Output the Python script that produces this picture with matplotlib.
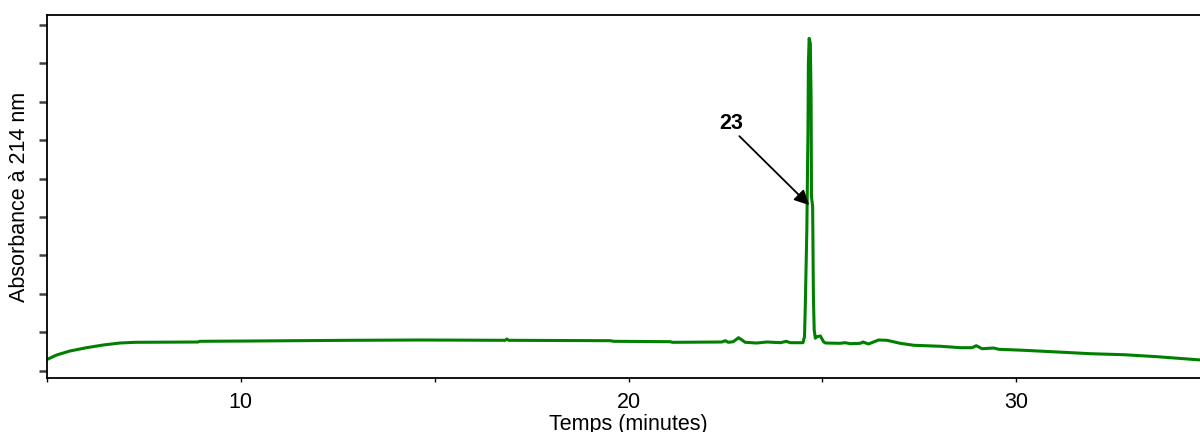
import matplotlib
matplotlib.use("Agg")
import matplotlib.pyplot as plt
from matplotlib.ticker import MultipleLocator, NullFormatter

plt.rcParams['font.family'] = ['Liberation Sans', 'DejaVu Sans']

# ---- data ----
time_min = [5.01, 5.25, 5.59, 6.02, 6.45, 6.88, 7.27, 8.90, 8.94, 10.24, 12.82, 14.63,
            16.82, 16.86, 16.91, 19.53, 19.62, 21.08, 21.13, 22.41, 22.50, 22.57, 22.70,
            22.84, 23.01, 23.31, 23.57, 23.92, 24.07, 24.17, 24.50, 24.54, 24.56, 24.60,
            24.63, 24.64, 24.66, 24.69, 24.71, 24.72, 24.75, 24.77, 24.79, 24.82, 24.86,
            24.95, 25.03, 25.08, 25.46, 25.59, 25.72, 25.98, 26.05, 26.19, 26.45, 26.67,
            27.01, 27.36, 28.05, 28.56, 28.86, 28.97, 29.12, 29.42, 29.55, 30.19, 31.06,
            31.92, 32.78, 33.64, 34.76]
absorbance = [0.304, 0.416, 0.519, 0.605, 0.675, 0.727, 0.745, 0.753, 0.771, 0.779, 0.797, 0.805,
              0.797, 0.831, 0.797, 0.787, 0.771, 0.761, 0.745, 0.753, 0.787, 0.745, 0.760,
              0.865, 0.745, 0.727, 0.753, 0.735, 0.771, 0.735, 0.735, 0.891, 1.670, 3.662,
              6.260, 7.990, 8.640, 8.510, 7.120, 4.530, 4.270, 1.920, 1.065, 0.850, 0.891,
              0.909, 0.761, 0.727, 0.719, 0.735, 0.709, 0.719, 0.753, 0.701, 0.805, 0.797,
              0.719, 0.668, 0.642, 0.605, 0.605, 0.657, 0.579, 0.597, 0.564, 0.538, 0.494,
              0.449, 0.423, 0.371, 0.286]

x_ticks_major = [10, 20, 30]
x_tick_labels = ['10', '20', '30']
y_ticks = [0, 1, 2, 3, 4, 5, 6, 7, 8, 9]

peak_label = '23'
peak_arrow_tip = (24.66, 4.31)
peak_label_pos = (22.65, 6.42)
arrow_tail = (22.86, 6.10)

xlabel = 'Temps (minutes)'
ylabel = 'Absorbance à 214 nm'

# ---- figure ----
fig = plt.figure(figsize=(12, 4.32), dpi=100)
ax = fig.add_axes([47 / 1200, 54 / 432, 1163 / 1200, 363 / 432])

ax.plot(time_min, absorbance, color='#008000', lw=2.2, solid_joinstyle='round')

ax.set_xlim(5, 35)
ax.set_ylim(-0.182, 9.247)

ax.set_xticks(x_ticks_major)
ax.set_xticklabels(x_tick_labels, fontsize=15.5)
ax.xaxis.set_minor_locator(MultipleLocator(5))
ax.xaxis.set_minor_formatter(NullFormatter())
ax.tick_params(axis='x', which='both', direction='out', length=3, width=1, colors='black', pad=7)

ax.set_yticks(y_ticks)
ax.set_yticklabels([])
ax.tick_params(axis='y', which='major', direction='out', length=6, width=1.8, color='#404040')

for side in ['top', 'left', 'bottom']:
    ax.spines[side].set_linewidth(1.3)
    ax.spines[side].set_color('black')
ax.spines['right'].set_visible(False)

ax.set_xlabel(xlabel, fontsize=15.5, labelpad=1)
ax.set_ylabel(ylabel, fontsize=15.5, labelpad=3)

ax.annotate('', xy=peak_arrow_tip, xytext=arrow_tail,
            arrowprops=dict(arrowstyle='-|>', color='black', lw=1.3, mutation_scale=22,
                            shrinkA=0, shrinkB=0))
ax.text(peak_label_pos[0], peak_label_pos[1], peak_label, fontsize=15.5, fontweight='bold',
        ha='center', va='center')

fig.savefig('out.png', dpi=100)
